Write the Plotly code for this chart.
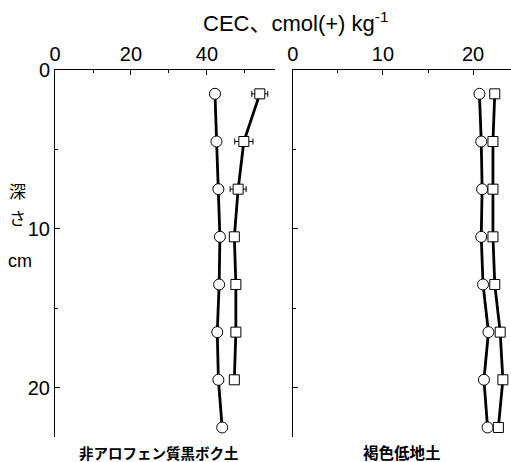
import plotly.graph_objects as go

# Data
depth = [1.5, 4.5, 7.5, 10.5, 13.5, 16.5, 19.5, 22.5]
depth_sq_left = [1.5, 4.5, 7.5, 10.5, 13.5, 16.5, 19.5]

left_circle = [42.1, 42.5, 43.0, 43.4, 43.2, 42.7, 43.0, 44.0]
left_square = [53.9, 49.7, 48.2, 47.2, 47.6, 47.6, 47.2]
left_square_err = [2.1, 2.4, 2.1, 0, 0, 0, 0]

right_circle = [20.7, 20.9, 21.0, 20.9, 21.1, 21.7, 21.2, 21.6]
right_square = [22.4, 22.2, 22.2, 22.2, 22.4, 23.0, 23.3, 22.8]

title_text = "CEC、cmol(+) kg<sup>-1</sup>"
panel_labels = ["非アロフェン質黒ボク土", "褐色低地土"]

W, H = 511, 462
ML, MR, MT, MB = 55, 0, 70, 25
PW, PH = W - ML - MR, H - MT - MB


def px(x):
    return (x - ML) / PW


def py(y):
    return (H - MB - y) / PH


FONT = "Liberation Sans, Arial, Noto Sans CJK JP"
JFONT = "Noto Sans CJK JP"

fig = go.Figure()

circ = dict(symbol="circle", size=11, color="white", line=dict(color="black", width=1))
sq = dict(symbol="square", size=10, color="white", line=dict(color="black", width=1))
ln = dict(color="black", width=2.8)

fig.add_trace(go.Scatter(x=left_circle, y=depth, mode="lines+markers", marker=circ, line=ln,
                         xaxis="x", yaxis="y", showlegend=False))
fig.add_trace(go.Scatter(x=left_square, y=depth_sq_left, mode="lines+markers", marker=sq, line=ln,
                         error_x=dict(type="data", array=left_square_err, color="black", thickness=1, width=3),
                         xaxis="x", yaxis="y", showlegend=False))
fig.add_trace(go.Scatter(x=right_circle, y=depth, mode="lines+markers", marker=circ, line=ln,
                         xaxis="x2", yaxis="y2", showlegend=False))
fig.add_trace(go.Scatter(x=right_square, y=depth, mode="lines+markers", marker=sq, line=ln,
                         xaxis="x2", yaxis="y2", showlegend=False))

xcommon = dict(side="top", showgrid=False, zeroline=False, showline=True, linecolor="black", linewidth=1,
               ticks="inside", ticklen=5, tickcolor="black", tickfont=dict(family=FONT, size=20, color="black"))

fig.update_layout(
    width=W, height=H,
    margin=dict(l=ML, r=MR, t=MT, b=MB),
    paper_bgcolor="white", plot_bgcolor="white",
    xaxis=dict(domain=[0, px(275)], range=[0, 57.9], tickvals=[0, 20, 40], anchor="y",
               minor=dict(tickvals=[10, 30, 50], ticks="inside", ticklen=3, tickcolor="black"), **xcommon),
    xaxis2=dict(domain=[px(292.7), 1], range=[0, 24.2], tickvals=[0, 10, 20], anchor="y2",
                minor=dict(tickvals=[5, 15], ticks="inside", ticklen=3, tickcolor="black"), **xcommon),
    yaxis=dict(domain=[0, 1], range=[23.1, 0], tickvals=[0, 10, 20], anchor="x", showgrid=False, zeroline=False,
               showline=True, linecolor="black", linewidth=1, ticks="inside", ticklen=5, tickcolor="black",
               tickfont=dict(family=FONT, size=20, color="black"),
               minor=dict(tickvals=[5, 15], ticks="inside", ticklen=3, tickcolor="black")),
    yaxis2=dict(domain=[0, 1], range=[23.1, 0], tickvals=[0, 10, 20], anchor="x2", showgrid=False, zeroline=False,
                showline=True, linecolor="black", linewidth=1, ticks="inside", ticklen=5, tickcolor="black",
                showticklabels=False,
                minor=dict(tickvals=[5, 15], ticks="inside", ticklen=3, tickcolor="black")),
)

ann = [
    dict(text=title_text, x=px(295), y=py(22), font=dict(family=FONT + ", " + JFONT, size=22)),
    dict(text="深", x=px(17), y=py(190), font=dict(family=JFONT, size=17)),
    dict(text="さ", x=px(17), y=py(217), font=dict(family=JFONT, size=17)),
    dict(text="cm", x=px(20), y=py(261), font=dict(family=FONT, size=18)),
    dict(text="<b>" + panel_labels[0] + "</b>", x=px(159), y=py(452), font=dict(family=JFONT, size=14.5)),
    dict(text="<b>" + panel_labels[1] + "</b>", x=px(402), y=py(452), font=dict(family=JFONT, size=15.5)),
]
for a in ann:
    a.update(xref="paper", yref="paper", showarrow=False, xanchor="center", yanchor="middle")
    a["font"]["color"] = "black"
fig.update_layout(annotations=ann)

fig.write_html("out.html")
